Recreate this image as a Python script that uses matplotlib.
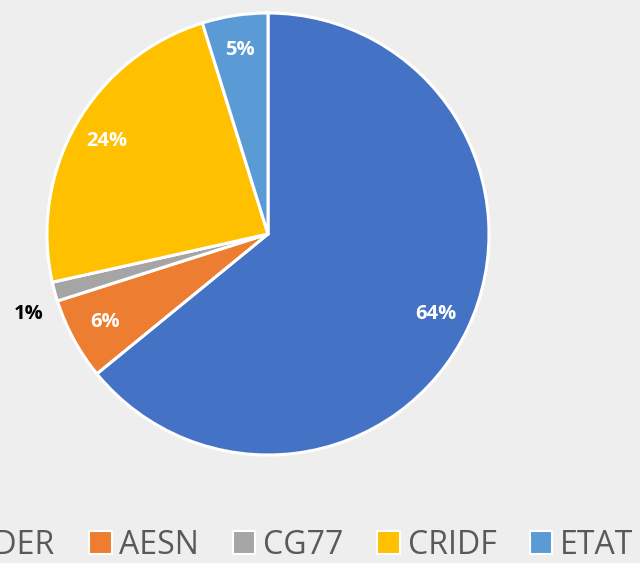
import numpy as np
import matplotlib.pyplot as plt
from matplotlib.patches import Patch

labels = ["FEDER", "AESN", "CG77", "CRIDF", "ETAT"]
shares = [64.1, 6.0, 1.4, 23.7, 4.8]
colors = ["#4472C4", "#ED7D31", "#A5A5A5", "#FFC000", "#5B9BD5"]
bg = "#EEEEEE"

W, H = 640, 563
fig = plt.figure(figsize=(W / 100, H / 100), dpi=100, facecolor=bg)

# pie centre and radius in pixels
cx, cy, r = 268, 234, 221
ax = fig.add_axes([(cx - r) / W, (H - cy - r) / H, 2 * r / W, 2 * r / H])
ax.set_facecolor(bg)

wedges, _, pcts = ax.pie(
    shares, colors=colors, startangle=90, counterclock=False, radius=1,
    autopct=lambda p: f"{p:.0f}%", pctdistance=0.84,
    wedgeprops=dict(edgecolor="white", linewidth=2.2),
    textprops=dict(color="white", fontsize=14.5, fontweight="bold", family="Open Sans"),
)
# the smallest slice gets its label outside, in black
for w, t, v in zip(wedges, pcts, shares):
    if v < 3:
        a = np.deg2rad((w.theta1 + w.theta2) / 2)
        t.set_position((1.12 * np.cos(a), 1.12 * np.sin(a) - 0.07))
        t.set_color("black")
ax.set_xlim(-1, 1)
ax.set_ylim(-1, 1)
ax.set_aspect("equal")
ax.axis("off")

handles = [Patch(facecolor=c, edgecolor="white", linewidth=1.5) for c in colors]
fig.legend(
    handles, labels, ncol=5, loc="center left",
    bbox_to_anchor=(-70 / W, 18 / H), frameon=False,
    prop=dict(family="Open Sans", size=23), labelcolor="#595959",
    handlelength=0.7, handleheight=0.7, handletextpad=0.25,
    columnspacing=1.05, borderpad=0, borderaxespad=0,
)

fig.savefig("out.png", dpi=100, facecolor=bg)
